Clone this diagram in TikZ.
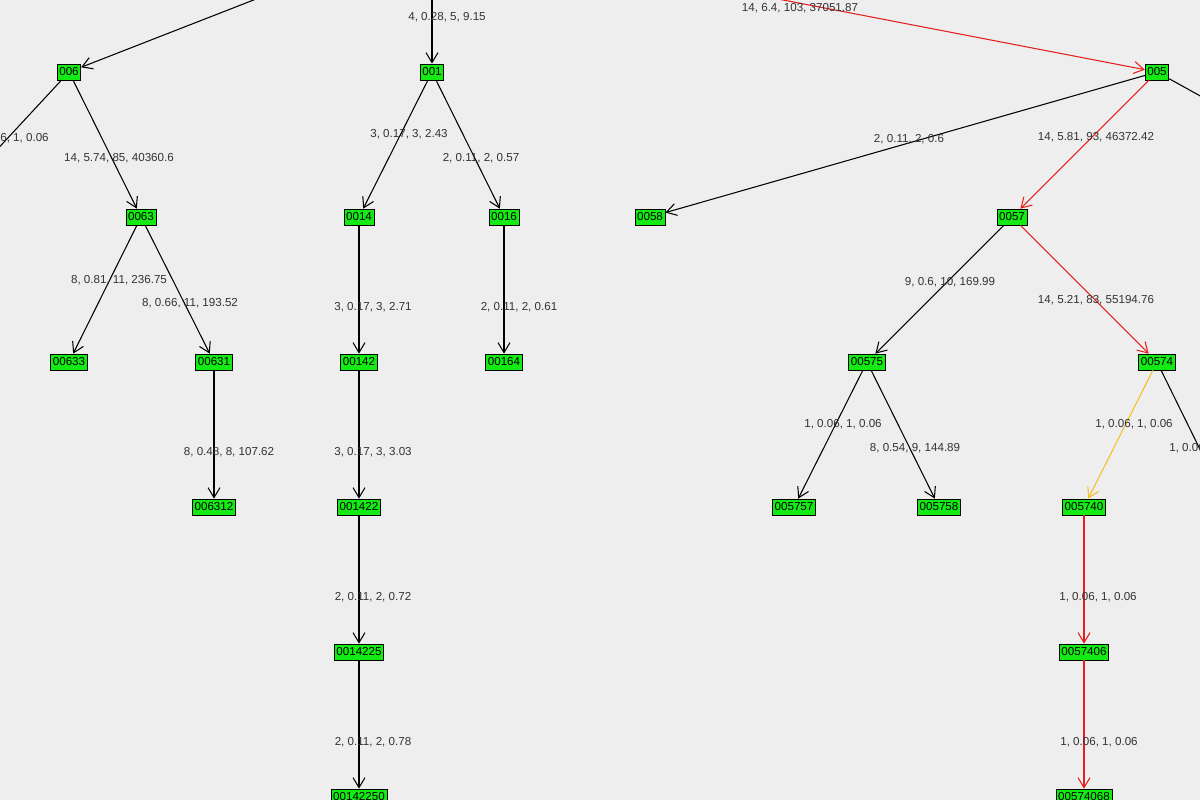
\documentclass[tikz,border=0pt]{standalone}
\usepackage{fontspec}
\setmainfont{Liberation Sans}
\usetikzlibrary{arrows.meta}
\definecolor{bg}{RGB}{238,238,238}
\definecolor{boxgreen}{RGB}{20,235,20}
\definecolor{pathred}{RGB}{230,30,30}
\definecolor{altyellow}{RGB}{242,192,40}
\tikzset{
  vx/.style={draw=black,fill=boxgreen,inner sep=1.2pt,minimum height=0.32cm,font=\fontsize{6.6}{7}\selectfont},
  lbl/.style={font=\fontsize{6.6}{7}\selectfont,text=black!80,inner sep=0pt},
  edge/.style={-{Straight Barb[length=0.2cm,width=0.24cm]},semithick},
}
\begin{document}
\begin{tikzpicture}[x=0.02cm,y=-0.02cm]
\fill[bg] (0,0) rectangle (1200,800);
\useasboundingbox (0,0) rectangle (1200,800);
\begin{scope}
\clip (0,0) rectangle (1200,800);
% nodes
\node[vx] (n006) at (69,72) {006};
\node[vx] (n001) at (432,72) {001};
\node[vx] (n005) at (1157,72) {005};
\node[vx] (n0063) at (141,217) {0063};
\node[vx] (n0014) at (359,217) {0014};
\node[vx] (n0016) at (504,217) {0016};
\node[vx] (n0058) at (650,217) {0058};
\node[vx] (n0057) at (1012,217) {0057};
\node[vx] (n00633) at (69,362) {00633};
\node[vx] (n00631) at (214,362) {00631};
\node[vx] (n00142) at (359,362) {00142};
\node[vx] (n00164) at (504,362) {00164};
\node[vx] (n00575) at (867,362) {00575};
\node[vx] (n00574) at (1157,362) {00574};
\node[vx] (n006312) at (214,507) {006312};
\node[vx] (n001422) at (359,507) {001422};
\node[vx] (n005757) at (794,507) {005757};
\node[vx] (n005758) at (939,507) {005758};
\node[vx] (n005740) at (1084,507) {005740};
\node[vx] (n0014225) at (359,652) {0014225};
\node[vx] (n0057406) at (1084,652) {0057406};
\node[vx] (n00142250) at (359,797) {00142250};
\node[vx] (n00574068) at (1084,797) {00574068};
% off-frame ends
\coordinate (in006) at (310,-22);
\coordinate (in001) at (432,-30);
\coordinate (in005) at (700,-16);
\coordinate (out006) at (-20,168);
\coordinate (out005) at (1240,118);
\coordinate (out00574) at (1220,490);
% connectors
\draw[edge] (in006) -- (n006);
\draw[edge] (in001) -- (n001);
\draw[edge,pathred] (in005) -- (n005);
\draw[semithick] (n006) -- (out006);
\draw[semithick] (n005) -- (out005);
\draw[semithick] (n00574) -- (out00574);
\draw[edge] (n006) -- (n0063);
\draw[edge] (n001) -- (n0014);
\draw[edge] (n001) -- (n0016);
\draw[edge] (n005) -- (n0058);
\draw[edge,pathred] (n005) -- (n0057);
\draw[edge] (n0063) -- (n00633);
\draw[edge] (n0063) -- (n00631);
\draw[edge] (n0014) -- (n00142);
\draw[edge] (n0016) -- (n00164);
\draw[edge] (n0057) -- (n00575);
\draw[edge,pathred] (n0057) -- (n00574);
\draw[edge] (n00631) -- (n006312);
\draw[edge] (n00142) -- (n001422);
\draw[edge] (n00575) -- (n005757);
\draw[edge] (n00575) -- (n005758);
\draw[edge,altyellow] (n00574) -- (n005740);
\draw[edge] (n001422) -- (n0014225);
\draw[edge,pathred] (n005740) -- (n0057406);
\draw[edge] (n0014225) -- (n00142250);
\draw[edge,pathred] (n0057406) -- (n00574068);
% labels
\node[lbl] (l001) at (447,17) {4, 0.28, 5, 9.15};
\node[lbl] (l005) at (800,8) {14, 6.4, 103, 37051.87};
\node[lbl] (lout006) at (10,138) {1, 0.06, 1, 0.06};
\node[lbl] (lout00574) at (1208,448) {1, 0.06, 1, 0.06};
\node[lbl] (l0063) at (119,158) {14, 5.74, 85, 40360.6};
\node[lbl] (l0014) at (409,134) {3, 0.17, 3, 2.43};
\node[lbl] (l0016) at (481,158) {2, 0.11, 2, 0.57};
\node[lbl] (l0058) at (909,139) {2, 0.11, 2, 0.6};
\node[lbl] (l0057) at (1096,137) {14, 5.81, 93, 46372.42};
\node[lbl] (l00633) at (119,280) {8, 0.81, 11, 236.75};
\node[lbl] (l00631) at (190,303) {8, 0.66, 11, 193.52};
\node[lbl] (l00142) at (373,307) {3, 0.17, 3, 2.71};
\node[lbl] (l00164) at (519,307) {2, 0.11, 2, 0.61};
\node[lbl] (l00575) at (950,282) {9, 0.6, 10, 169.99};
\node[lbl] (l00574) at (1096,300) {14, 5.21, 83, 55194.76};
\node[lbl] (l006312) at (229,452) {8, 0.48, 8, 107.62};
\node[lbl] (l001422) at (373,452) {3, 0.17, 3, 3.03};
\node[lbl] (l005757) at (843,424) {1, 0.06, 1, 0.06};
\node[lbl] (l005758) at (915,448) {8, 0.54, 9, 144.89};
\node[lbl] (l005740) at (1134,424) {1, 0.06, 1, 0.06};
\node[lbl] (l0014225) at (373,597) {2, 0.11, 2, 0.72};
\node[lbl] (l0057406) at (1098,597) {1, 0.06, 1, 0.06};
\node[lbl] (l00142250) at (373,742) {2, 0.11, 2, 0.78};
\node[lbl] (l00574068) at (1099,742) {1, 0.06, 1, 0.06};
\end{scope}
\end{tikzpicture}
\end{document}
